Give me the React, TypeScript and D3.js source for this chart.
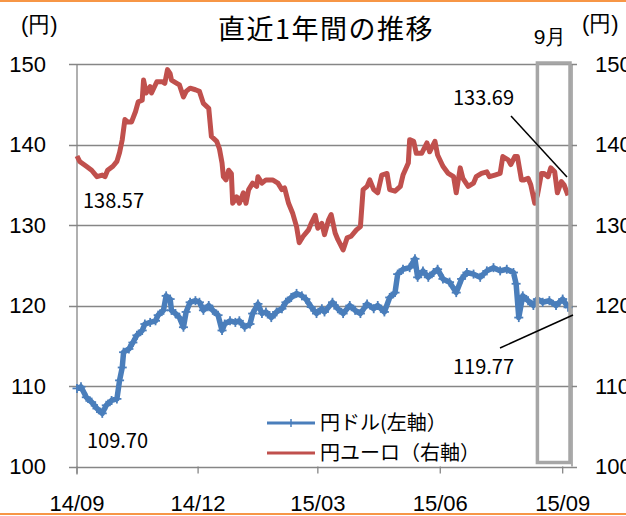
import React, { useEffect, useRef } from "react";
import * as d3 from "d3";

// 円ドル (left axis)
const usdJpy: [string, number][] = [
  ["2014-09-01", 109.7], ["2014-09-04", 109.9], ["2014-09-08", 108.6], ["2014-09-12", 108.0],
  ["2014-09-16", 107.2], ["2014-09-20", 106.6], ["2014-09-23", 107.6], ["2014-09-27", 108.2],
  ["2014-10-01", 108.4], ["2014-10-03", 110.7], ["2014-10-05", 112.3], ["2014-10-06", 114.2],
  ["2014-10-10", 114.6], ["2014-10-13", 115.4], ["2014-10-16", 116.3], ["2014-10-20", 116.9],
  ["2014-10-22", 117.7], ["2014-10-26", 117.9], ["2014-10-30", 118.1], ["2014-11-01", 118.8],
  ["2014-11-05", 119.4], ["2014-11-07", 121.2], ["2014-11-10", 120.8], ["2014-11-11", 119.4],
  ["2014-11-14", 119.0], ["2014-11-17", 118.5], ["2014-11-20", 117.3], ["2014-11-22", 119.2],
  ["2014-11-25", 120.4], ["2014-11-29", 120.6], ["2014-12-02", 120.4], ["2014-12-05", 119.4],
  ["2014-12-09", 120.0], ["2014-12-12", 119.4], ["2014-12-16", 118.8], ["2014-12-19", 116.9],
  ["2014-12-21", 117.7], ["2014-12-25", 118.1], ["2014-12-29", 117.9], ["2015-01-01", 118.1],
  ["2015-01-05", 117.3], ["2015-01-09", 117.7], ["2015-01-11", 119.0], ["2015-01-15", 120.2],
  ["2015-01-18", 119.0], ["2015-01-21", 119.2], ["2015-01-25", 118.5], ["2015-01-29", 119.2],
  ["2015-02-02", 119.6], ["2015-02-05", 120.4], ["2015-02-09", 121.0], ["2015-02-13", 121.5],
  ["2015-02-17", 121.2], ["2015-02-20", 120.8], ["2015-02-24", 119.8], ["2015-02-28", 119.0],
  ["2015-03-04", 119.6], ["2015-03-06", 119.2], ["2015-03-12", 120.4], ["2015-03-16", 119.6],
  ["2015-03-20", 119.0], ["2015-03-25", 120.0], ["2015-03-29", 119.4], ["2015-04-02", 119.0],
  ["2015-04-07", 120.2], ["2015-04-12", 119.6], ["2015-04-15", 120.0], ["2015-04-20", 119.2],
  ["2015-04-24", 121.0], ["2015-04-28", 121.6], ["2015-04-30", 123.9], ["2015-05-04", 124.5],
  ["2015-05-09", 124.7], ["2015-05-13", 125.8], ["2015-05-15", 123.5], ["2015-05-19", 124.3],
  ["2015-05-23", 123.5], ["2015-05-27", 124.1], ["2015-05-30", 124.5], ["2015-06-03", 123.3],
  ["2015-06-08", 122.9], ["2015-06-13", 121.6], ["2015-06-17", 123.3], ["2015-06-21", 124.1],
  ["2015-06-26", 123.9], ["2015-07-01", 123.5], ["2015-07-06", 124.3], ["2015-07-11", 124.7],
  ["2015-07-16", 124.3], ["2015-07-21", 124.5], ["2015-07-26", 124.1], ["2015-07-28", 122.7],
  ["2015-07-30", 118.5], ["2015-08-02", 121.2], ["2015-08-06", 120.6], ["2015-08-10", 120.0],
  ["2015-08-13", 120.8], ["2015-08-17", 120.4], ["2015-08-22", 120.6], ["2015-08-27", 120.0],
  ["2015-09-01", 120.8], ["2015-09-05", 119.77],
];

// 円ユーロ (right axis)
const eurJpy: [string, number][] = [
  ["2014-09-01", 138.57], ["2014-09-03", 137.9], ["2014-09-08", 137.3], ["2014-09-12", 136.8],
  ["2014-09-16", 136.0], ["2014-09-20", 136.2], ["2014-09-22", 136.0], ["2014-09-24", 136.8],
  ["2014-09-28", 137.3], ["2014-10-01", 137.9], ["2014-10-03", 139.0], ["2014-10-05", 140.6],
  ["2014-10-07", 143.1], ["2014-10-09", 142.8], ["2014-10-12", 142.8], ["2014-10-15", 144.1],
  ["2014-10-17", 145.3], ["2014-10-20", 145.5], ["2014-10-21", 148.0], ["2014-10-23", 146.4],
  ["2014-10-26", 147.2], ["2014-10-27", 146.4], ["2014-10-31", 147.8], ["2014-11-04", 147.8],
  ["2014-11-06", 147.6], ["2014-11-08", 149.3], ["2014-11-10", 148.8], ["2014-11-11", 148.0],
  ["2014-11-15", 147.6], ["2014-11-17", 147.4], ["2014-11-20", 145.9], ["2014-11-22", 146.6],
  ["2014-11-25", 147.0], ["2014-11-29", 146.8], ["2014-12-02", 146.6], ["2014-12-05", 145.1],
  ["2014-12-09", 144.5], ["2014-12-11", 141.0], ["2014-12-15", 140.4], ["2014-12-17", 139.5],
  ["2014-12-19", 137.7], ["2014-12-20", 136.0], ["2014-12-22", 135.6], ["2014-12-24", 136.8],
  ["2014-12-26", 136.4], ["2014-12-27", 132.7], ["2014-12-30", 133.5], ["2015-01-01", 132.7],
  ["2015-01-04", 134.0], ["2015-01-06", 132.7], ["2015-01-08", 134.4], ["2015-01-11", 135.2],
  ["2015-01-14", 134.8], ["2015-01-15", 136.0], ["2015-01-18", 135.2], ["2015-01-21", 135.6],
  ["2015-01-26", 135.6], ["2015-01-30", 135.2], ["2015-02-02", 134.4], ["2015-02-04", 134.6],
  ["2015-02-07", 132.7], ["2015-02-10", 131.5], ["2015-02-13", 129.8], ["2015-02-15", 127.8],
  ["2015-02-18", 128.6], ["2015-02-22", 129.4], ["2015-02-24", 130.2], ["2015-02-27", 131.2],
  ["2015-03-01", 129.6], ["2015-03-04", 130.2], ["2015-03-06", 128.8], ["2015-03-09", 130.6],
  ["2015-03-11", 131.3], ["2015-03-14", 129.0], ["2015-03-16", 128.2], ["2015-03-20", 126.9],
  ["2015-03-23", 128.4], ["2015-03-26", 128.6], ["2015-03-30", 129.4], ["2015-04-02", 129.8],
  ["2015-04-04", 134.4], ["2015-04-07", 134.8], ["2015-04-09", 135.6], ["2015-04-12", 134.4],
  ["2015-04-15", 134.0], ["2015-04-18", 136.2], ["2015-04-22", 136.4], ["2015-04-24", 134.4],
  ["2015-04-28", 134.2], ["2015-05-02", 134.8], ["2015-05-04", 136.2], ["2015-05-08", 137.7],
  ["2015-05-09", 140.6], ["2015-05-12", 140.4], ["2015-05-14", 138.9], ["2015-05-18", 138.9],
  ["2015-05-22", 140.2], ["2015-05-24", 139.1], ["2015-05-28", 140.4], ["2015-05-30", 138.7],
  ["2015-06-03", 137.3], ["2015-06-07", 136.4], ["2015-06-11", 136.0], ["2015-06-13", 134.0],
  ["2015-06-16", 137.1], ["2015-06-18", 135.8], ["2015-06-22", 134.8], ["2015-06-26", 135.2],
  ["2015-06-28", 136.0], ["2015-07-02", 136.4], ["2015-07-06", 136.6], ["2015-07-08", 136.0],
  ["2015-07-12", 136.2], ["2015-07-16", 136.4], ["2015-07-18", 138.5], ["2015-07-22", 138.1],
  ["2015-07-24", 137.5], ["2015-07-27", 138.5], ["2015-07-29", 138.5], ["2015-08-01", 135.6],
  ["2015-08-03", 135.6], ["2015-08-06", 135.8], ["2015-08-08", 135.0], ["2015-08-11", 132.7],
  ["2015-08-13", 133.7], ["2015-08-16", 136.4], ["2015-08-18", 136.4], ["2015-08-21", 136.0],
  ["2015-08-23", 137.1], ["2015-08-26", 136.6], ["2015-08-28", 134.0], ["2015-08-31", 135.4],
  ["2015-09-02", 135.0], ["2015-09-05", 133.69],
];

const yTicks = [100, 110, 120, 130, 140, 150];
const xTicks = ["2014-09-01", "2014-12-01", "2015-03-01", "2015-06-01", "2015-09-01"];
const dateRange = ["2014-09-01", "2015-09-08"];
const septemberBox = ["2015-08-13", "2015-09-08"];

const BLUE = "#4a7ebb";
const RED = "#c0504d";
const GRID = "#868686";
const JP = "'Noto Sans CJK JP', 'Noto Sans', sans-serif";
const NUM = "'Liberation Sans', Arial, sans-serif";

const App = () => {
  const svgRef = useRef<SVGSVGElement>(null);
  const width = 626;
  const height = 516;
  const margin = { top: 64, right: 54, bottom: 49, left: 77 };

  useEffect(() => {
    const svg = d3.select(svgRef.current).attr("width", width).attr("height", height);
    svg.selectAll("*").remove();

    const parse = d3.timeParse("%Y-%m-%d");
    const left = margin.left;
    const right = width - margin.right;
    const top = margin.top;
    const bottom = height - margin.bottom - 0.5;

    const x = d3
      .scaleTime()
      .domain(dateRange.map((d) => parse(d) as Date))
      .range([left, right]);
    const yLeft = d3.scaleLinear().domain([100, 150]).range([bottom, top]);
    const yRight = d3.scaleLinear().domain([100, 150]).range([bottom, top]);

    // orange frame lines
    svg.append("line").attr("x1", 0).attr("x2", width).attr("y1", 1).attr("y2", 1)
      .attr("stroke", "#f79646").attr("stroke-width", 2);
    svg.append("line").attr("x1", 0).attr("x2", width).attr("y1", 514).attr("y2", 514)
      .attr("stroke", "#f79646").attr("stroke-width", 2);

    // gridlines (they run through the left and right ticks)
    svg
      .append("g")
      .selectAll("line")
      .data(yTicks)
      .enter()
      .append("line")
      .attr("x1", left - 8)
      .attr("x2", right + 5)
      .attr("y1", (d) => Math.round(yLeft(d)) + 0.5)
      .attr("y2", (d) => Math.round(yLeft(d)) + 0.5)
      .attr("stroke", GRID)
      .attr("stroke-width", 1.3);

    // left and right axis lines
    svg.append("line").attr("x1", left).attr("x2", left).attr("y1", top).attr("y2", bottom + 8)
      .attr("stroke", GRID).attr("stroke-width", 1.3);
    svg.append("line").attr("x1", right).attr("x2", right).attr("y1", top).attr("y2", bottom)
      .attr("stroke", GRID).attr("stroke-width", 1.3);

    // x ticks
    svg
      .append("g")
      .selectAll("line")
      .data(xTicks)
      .enter()
      .append("line")
      .attr("x1", (d) => x(parse(d) as Date))
      .attr("x2", (d) => x(parse(d) as Date))
      .attr("y1", bottom)
      .attr("y2", bottom + 7)
      .attr("stroke", GRID)
      .attr("stroke-width", 1.3);

    svg
      .append("g")
      .selectAll("text")
      .data(xTicks)
      .enter()
      .append("text")
      .attr("x", (d) => x(parse(d) as Date))
      .attr("y", 511)
      .attr("text-anchor", "middle")
      .style("font-family", NUM)
      .style("font-size", "22px")
      .text((d) => d3.timeFormat("%y/%m")(parse(d) as Date));

    // y tick labels
    svg
      .append("g")
      .selectAll("text")
      .data(yTicks)
      .enter()
      .append("text")
      .attr("x", 46)
      .attr("y", (d) => yLeft(d))
      .attr("dy", "0.36em")
      .attr("text-anchor", "end")
      .style("font-family", NUM)
      .style("font-size", "22px")
      .text((d) => d);

    // right axis labels run off the picture's edge, as in the original
    svg
      .append("g")
      .selectAll("text")
      .data(yTicks)
      .enter()
      .append("text")
      .attr("x", 595)
      .attr("y", (d) => yRight(d))
      .attr("dy", "0.36em")
      .style("font-family", NUM)
      .style("font-size", "22px")
      .text((d) => d);

    // unit labels and title
    svg.append("text").attr("x", 21).attr("y", 32).style("font-family", NUM)
      .style("font-size", "22px").text("(円)");
    svg.append("text").attr("x", 582).attr("y", 31).style("font-family", NUM)
      .style("font-size", "22px").text("(円)");
    svg.append("text").attr("x", 326).attr("y", 39).attr("text-anchor", "middle")
      .style("font-family", JP).style("font-size", "27px").style("letter-spacing", "1.5px")
      .text("直近1年間の推移");
    svg.append("text").attr("x", 550).attr("y", 44).attr("text-anchor", "middle")
      .style("font-family", NUM).style("font-size", "21px").text("9月");

    // lines
    const line = d3
      .line<[string, number]>()
      .x((d) => x(parse(d[0]) as Date))
      .y((d) => yLeft(d[1]));
    const lineRight = d3
      .line<[string, number]>()
      .x((d) => x(parse(d[0]) as Date))
      .y((d) => yRight(d[1]));

    svg.append("path").datum(eurJpy).attr("d", lineRight).attr("fill", "none")
      .attr("stroke", RED).attr("stroke-width", 5).attr("stroke-linejoin", "round");

    svg.append("path").datum(usdJpy).attr("d", line).attr("fill", "none")
      .attr("stroke", BLUE).attr("stroke-width", 5.5).attr("stroke-linejoin", "round");

    // blue "+" markers
    const cross = svg.append("g").attr("stroke", BLUE).attr("stroke-width", 1.8);
    usdJpy.forEach((d) => {
      const cx = x(parse(d[0]) as Date);
      const cy = yLeft(d[1]);
      cross.append("line").attr("x1", cx - 4.5).attr("x2", cx + 4.5).attr("y1", cy).attr("y2", cy);
      cross.append("line").attr("x1", cx).attr("x2", cx).attr("y1", cy - 4.5).attr("y2", cy + 4.5);
    });

    // September highlight box
    const bx0 = x(parse(septemberBox[0]) as Date);
    const bx1 = x(parse(septemberBox[1]) as Date);
    svg.append("rect").attr("x", bx0).attr("y", top - 1).attr("width", bx1 - bx0 - 2)
      .attr("height", bottom - top - 3).attr("fill", "none").attr("stroke", "#a6a6a6")
      .attr("stroke-width", 3.5);

    // value annotations
    const note = (tx: number, ty: number, label: string) =>
      svg.append("text").attr("x", tx).attr("y", ty).style("font-family", JP)
        .style("font-size", "20px").text(label);

    note(83, 208, d3.format(".2f")(eurJpy[0][1]));
    note(87, 448, d3.format(".2f")(usdJpy[0][1]));
    note(453, 105, d3.format(".2f")(eurJpy[eurJpy.length - 1][1]));
    note(453, 374, d3.format(".2f")(usdJpy[usdJpy.length - 1][1]));

    svg.append("line").attr("x1", 511).attr("y1", 116).attr("x2", 567).attr("y2", 177)
      .attr("stroke", "#000").attr("stroke-width", 1.5);
    svg.append("line").attr("x1", 500).attr("y1", 348).attr("x2", 573).attr("y2", 315)
      .attr("stroke", "#000").attr("stroke-width", 1.5);

    // legend
    const legend = svg.append("g").attr("transform", "translate(267,423)");
    const items = [
      { label: "円ドル(左軸）", color: BLUE, marker: true },
      { label: "円ユーロ（右軸）", color: RED, marker: false },
    ];
    items.forEach((item, i) => {
      const g = legend.append("g").attr("transform", `translate(0,${i * 30})`);
      g.append("line").attr("x1", 0).attr("x2", 48).attr("stroke", item.color).attr("stroke-width", 3);
      if (item.marker) {
        g.append("line").attr("x1", 24).attr("x2", 24).attr("y1", -4).attr("y2", 4)
          .attr("stroke", item.color).attr("stroke-width", 1.5);
      }
      g.append("text").attr("x", 53).attr("dy", "0.36em").style("font-family", JP)
        .style("font-size", "20px").text(item.label);
    });
  }, []);

  return <svg ref={svgRef} style={{ position: "absolute", left: 0, top: 0 }}></svg>;
};

export default App;
